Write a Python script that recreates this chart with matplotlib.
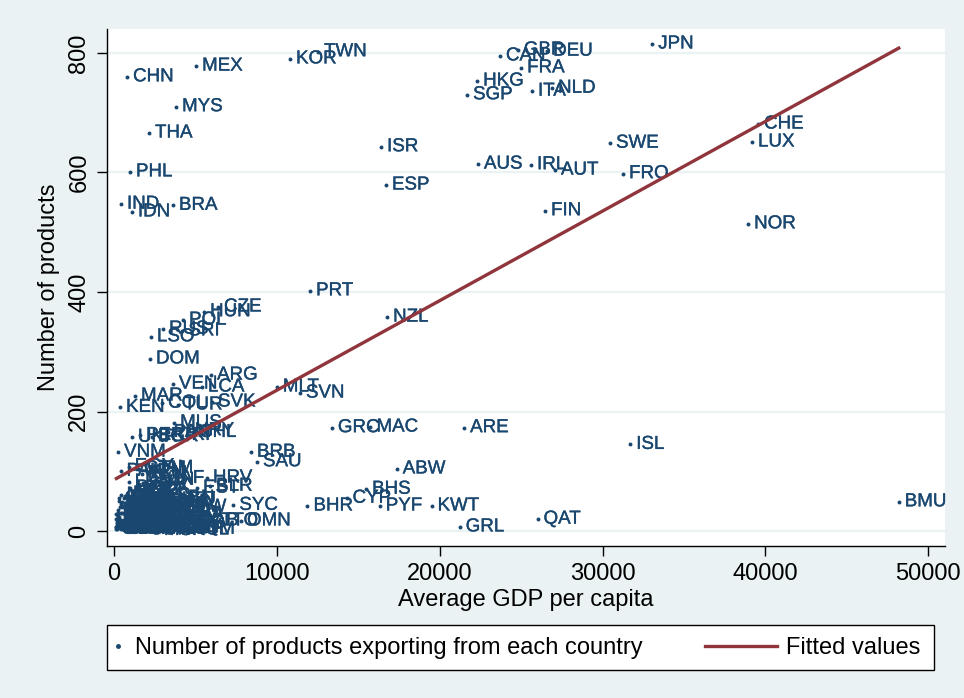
import matplotlib
matplotlib.use("Agg")
import matplotlib.pyplot as plt
import matplotlib.patheffects as pe
from matplotlib.lines import Line2D
from matplotlib.patches import Rectangle

# country code, average GDP per capita, number of exported products
countries = [
    "JPN", "TWN", "KOR", "MEX", "CHN", "MYS", "THA", "PHL", "IND", "IDN",
    "BRA", "ISR", "ESP", "AUS", "HKG", "SGP", "CAN", "GBR", "DEU", "FRA",
    "ITA", "NLD", "SWE", "IRL", "AUT", "FRO", "CHE", "LUX", "FIN", "NOR",
    "PRT", "NZL", "CZE", "HUN", "POL", "RUS", "SRI", "LSO", "DOM", "ARG",
    "VEN", "LCA", "MLT", "SVN", "MAR", "KEN", "COL", "TUR", "SVK", "MUS",
    "CHL", "GRC", "MAC", "ARE", "VNM", "BRB", "SAU", "ISL", "ABW", "BHS",
    "CYP", "PYF", "KWT", "BHR", "GRL", "QAT", "BMU", "SYC",
    "UKR", "PER", "BGR", "PAN", "CRI", "URY", "JAM", "GTM", "EGY", "ECU",
    "IRN", "PAK", "HRV", "EST", "BLR", "LBN", "PLW", "GAB", "TTO", "OMN",
    "ZAF", "TUN", "LKA", "JOR", "SLV", "DZA", "BOL", "HND", "NIC", "KAZ",
    "GEO", "ARM", "MKD", "ALB", "BIH", "NAM", "BWA", "SWZ", "FJI", "MDA",
    "KGZ", "UZB", "VCT", "DMA", "GRD", "KNA", "BLZ", "SUR", "GUY", "CPV",
    "MNG", "NGA", "GHA", "SEN", "CIV", "CMR", "ZWE", "ZMB", "TZA", "UGA",
    "ETH", "MDG", "MOZ", "MWI", "BGD", "NPL", "KHM", "LAO", "MMR", "YEM",
    "SYR", "IRQ", "LBY", "AGO", "COG", "GNQ", "DJI", "MRT", "MLI", "BFA",
    "NER", "TCD", "BEN", "TGO", "GIN", "SLE", "LBR", "GMB", "GNB", "CAF",
    "BDI", "RWA", "SDN", "ERI", "SOM", "COM", "STP", "TLS", "PNG", "SLB",
    "VUT", "WSM", "TON", "KIR", "FSM", "MHL", "MDV", "TJK", "TKM", "AZE",
    "AFG", "PRK", "PSE", "CUB", "PRY", "SRB", "MNE", "BTN", "ATG", "ROU",
    "LTU", "LVA", "NCL", "GUF", "MSR", "AIA", "CYM", "TCA", "VGB", "COK",
]
gdp_per_capita = [
    33050, 12530, 10810, 5040, 800, 3810, 2150, 980, 430, 1100,
    3620, 16400, 16700, 22350, 22300, 21680, 23700, 24800, 26600, 25000,
    25670, 26900, 30460, 25610, 27080, 31260, 39550, 39180, 26470, 38940,
    12040, 16770, 6390, 5530, 4240, 3010, 4200, 2270, 2210, 5960,
    3620, 5400, 10000, 11420, 1290, 370, 2950, 3930, 6020, 3690,
    4850, 13380, 15750, 21500, 250, 8410, 8780, 31700, 17360, 15480,
    14280, 16320, 19500, 11880, 21230, 26010, 48190, 7330,
    1100, 1600, 2330, 3300, 3560, 4600, 2200, 1500, 900, 1700,
    2000, 400, 5710, 5100, 5900, 3560, 4120, 4850, 6200, 7800,
    3000, 2200, 900, 1800, 2100, 1900, 1000, 1100, 800, 1500,
    700, 600, 1800, 1200, 1400, 2000, 3200, 1400, 2000, 400,
    300, 500, 2800, 3100, 3500, 4000, 3200, 2200, 900, 1300,
    500, 400, 300, 500, 700, 650, 600, 400, 250, 250,
    150, 250, 250, 150, 350, 230, 300, 350, 200, 500,
    1100, 1200, 4100, 1000, 900, 3500, 800, 450, 250, 220,
    180, 200, 350, 300, 400, 200, 150, 300, 200, 250,
    100, 230, 400, 200, 150, 400, 500, 400, 700, 700,
    1400, 1500, 1700, 600, 2000, 2200, 2400, 200, 900, 900,
    250, 500, 1200, 2500, 1400, 2800, 3000, 900, 4200, 2600,
    3800, 3600, 4400, 3900, 2700, 3300, 4500, 3700, 2900, 1800,
]
n_products = [
    815, 802, 790, 778, 760, 710, 666, 601, 547, 534,
    545, 643, 579, 614, 753, 730, 795, 805, 803, 775,
    736, 741, 649, 613, 604, 598, 681, 651, 536, 514,
    402, 358, 375, 367, 353, 338, 335, 325, 288, 261,
    246, 241, 241, 231, 226, 207, 214, 211, 216, 181,
    165, 173, 174, 173, 132, 132, 116, 145, 104, 70,
    55, 42, 42, 42, 7, 20, 49, 43,
    157, 160, 158, 165, 160, 168, 105, 104, 108, 96,
    99, 100, 89, 72, 75, 55, 40, 17, 17, 17,
    88, 85, 82, 80, 76, 70, 72, 66, 62, 68,
    58, 55, 60, 52, 48, 50, 45, 42, 40, 45,
    50, 40, 35, 32, 30, 28, 38, 30, 36, 28,
    30, 60, 55, 48, 45, 38, 42, 30, 35, 30,
    28, 25, 22, 20, 40, 26, 24, 12, 15, 14,
    33, 10, 8, 12, 10, 6, 8, 10, 16, 14,
    10, 6, 18, 12, 14, 8, 6, 10, 4, 5,
    6, 9, 18, 5, 3, 5, 3, 4, 14, 6,
    8, 10, 7, 3, 4, 3, 12, 14, 9, 18,
    5, 7, 16, 18, 24, 22, 14, 6, 12, 48,
    52, 44, 2, 4, 1, 6, 3, 9, 5, 2,
]

# fitted values (linear fit, read at the ends of the data range)
fit_gdp = [150, 48190]
fit_products = [88, 808]

BG = "#eaf2f3"
NAVY = "#1a476f"
MAROON = "#90353b"
FONT = ["Liberation Sans", "DejaVu Sans"]
TXT = 17

plt.rcParams["font.family"] = FONT

fig = plt.figure(figsize=(9.64, 6.98), dpi=100, facecolor=BG)
ax = fig.add_axes([107 / 964, 1 - 546 / 698, 838 / 964, 517 / 698])
ax.set_facecolor("white")

ax.scatter(gdp_per_capita, n_products, s=8, color=NAVY, linewidths=0, zorder=3)
stroke = [pe.withStroke(linewidth=0.25, foreground=NAVY)]
for code, x, y in zip(countries, gdp_per_capita, n_products):
    ax.annotate(code, (x, y), xytext=(6, 0), textcoords="offset pixels",
                ha="left", va="center", fontsize=13.5, color=NAVY, zorder=3,
                path_effects=stroke)
ax.plot(fit_gdp, fit_products, color=MAROON, lw=2.4, zorder=4)

ax.set_xlim(-430, 51030)
ax.set_ylim(-25, 840)
ax.set_xticks(range(0, 50001, 10000))
ax.set_yticks(range(0, 801, 200))
ax.set_yticklabels([str(v) for v in range(0, 801, 200)], rotation=90, va="center")
ax.tick_params(direction="out", length=7, width=1, colors="black",
               labelsize=TXT, pad=5)
ax.yaxis.grid(True, color=BG, lw=1.6)
ax.set_axisbelow(True)
for side in ("top", "right"):
    ax.spines[side].set_visible(False)
for side in ("left", "bottom"):
    ax.spines[side].set_color("black")
    ax.spines[side].set_linewidth(1)

ax.set_xlabel("Average GDP per capita", fontsize=TXT, labelpad=3)
ax.set_ylabel("Number of products", fontsize=TXT, labelpad=6)

# legend box below the plot
box = Rectangle((107 / 964, 1 - 670 / 698), 827 / 964, 45 / 698,
                transform=fig.transFigure, facecolor="white",
                edgecolor="black", lw=1)
fig.patches.append(box)
ymid = 1 - 648 / 698
dot = Line2D([], [], marker="o", markersize=2.5, color=NAVY, lw=0)
fit = Line2D([], [], color=MAROON, lw=2.4)
fig.legend([dot], ["Number of products exporting from each country"],
           loc="center left", bbox_to_anchor=(91 / 964, ymid), frameon=False,
           handlelength=0.5, handletextpad=0.45, fontsize=TXT)
fig.legend([fit], ["Fitted values"], loc="center right",
           bbox_to_anchor=(942 / 964, ymid), frameon=False,
           handlelength=3.05, handletextpad=0.4, fontsize=TXT)

fig.savefig("out.png", dpi=100, facecolor=BG)
